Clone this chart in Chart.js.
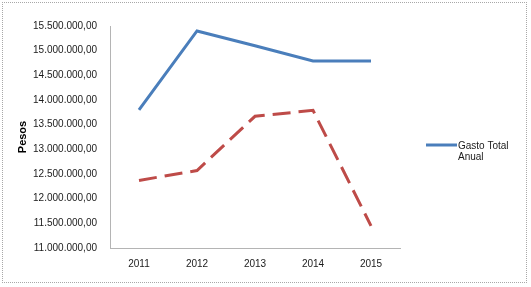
<!DOCTYPE html>
<html><head><meta charset="utf-8">
<script src="https://cdn.jsdelivr.net/npm/chart.js@4"></script>
<style>
html,body{margin:0;padding:0;background:#fff;}
#wrap{position:relative;width:531px;height:287px;}
#frame{position:absolute;left:2px;top:2px;width:525px;height:281px;border:1px dotted #a8a8a8;box-sizing:border-box;pointer-events:none;}
canvas{display:block;}
</style></head><body>
<div id="wrap"><canvas id="c" width="531" height="287"></canvas><div id="frame"></div></div>
<script>
const categories = ['2011', '2012', '2013', '2014', '2015'];
const gastoTotalAnual = [13800000, 15400000, 15100000, 14790000, 14790000];
const segundaSerie = [12370000, 12570000, 13670000, 13790000, 11450000];
const seriesNames = ['Gasto Total Anual', ''];
const yTitle = 'Pesos';
const yMin = 11000000, yMax = 15500000, yStep = 500000;

function fmt(v) {
  const s = Math.round(v).toString().replace(/\B(?=(\d{3})+(?!\d))/g, '.');
  return s + ',00';
}

const FONT = '"Liberation Sans", Arial, sans-serif';

const legendPlugin = {
  id: 'customLegend',
  afterDraw(chart) {
    const ctx = chart.ctx;
    const ds = chart.data.datasets[0];
    ctx.save();
    ctx.strokeStyle = ds.borderColor;
    ctx.lineWidth = 3;
    ctx.beginPath();
    ctx.moveTo(426, 145);
    ctx.lineTo(457, 145);
    ctx.stroke();
    ctx.font = '10px ' + FONT;
    ctx.fillStyle = '#1a1a1a';
    ctx.textBaseline = 'middle';
    const words = ds.label.split(' ');
    const lines = [];
    let cur = '';
    for (const w of words) {
      const t = cur ? cur + ' ' + w : w;
      if (ctx.measureText(t).width > 55 && cur) { lines.push(cur); cur = w; } else cur = t;
    }
    if (cur) lines.push(cur);
    lines.forEach((l, i) => ctx.fillText(l, 458, 146 + i * 11.5));
    ctx.restore();
  }
};

new Chart(document.getElementById('c'), {
  type: 'line',
  data: {
    labels: categories,
    datasets: [
      {
        label: seriesNames[0],
        data: gastoTotalAnual,
        borderColor: '#4a7ebb',
        borderWidth: 3,
        pointRadius: 0,
        tension: 0,
        fill: false
      },
      {
        label: seriesNames[1],
        data: segundaSerie,
        borderColor: '#be4b48',
        borderWidth: 3,
        borderDash: [18, 8],
        pointRadius: 0,
        tension: 0,
        fill: false
      }
    ]
  },
  options: {
    responsive: false,
    animation: false,
    devicePixelRatio: 1,
    layout: { padding: { top: 26, right: 131, bottom: 0, left: 0 } },
    plugins: { legend: { display: false }, tooltip: { enabled: false } },
    scales: {
      x: {
        offset: true,
        grid: { display: false, offset: true },
        border: { display: true, color: '#b4b4b4', width: 1 },
        ticks: { color: '#1a1a1a', font: { family: FONT, size: 10 }, padding: 2, maxRotation: 0 },
        afterFit(scale) { scale.height = 39; }
      },
      y: {
        min: yMin, max: yMax,
        grid: { display: false },
        border: { display: true, color: '#b4b4b4', width: 1 },
        ticks: {
          stepSize: yStep,
          color: '#1a1a1a',
          font: { family: FONT, size: 10 },
          padding: 5,
          callback: (v) => fmt(v)
        },
        title: {
          display: true,
          text: yTitle,
          color: '#000',
          font: { family: FONT, size: 11, weight: 'bold' },
          padding: { top: 16, bottom: 0 }
        },
        afterFit(scale) { scale.width = 110; }
      }
    }
  },
  plugins: [legendPlugin]
});
</script>
</body></html>
